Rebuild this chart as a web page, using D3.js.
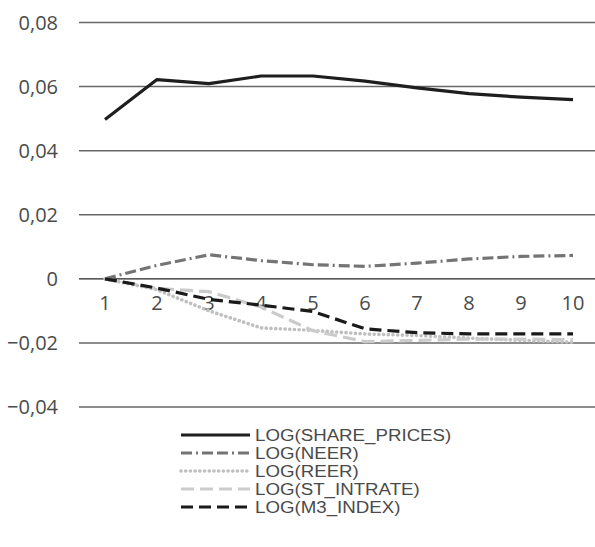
<!DOCTYPE html>
<html lang="en">
<head>
    <meta charset="UTF-8">
    <title>Impulse responses</title>
    <script src="https://d3js.org/d3.v7.min.js"></script>
    <style>
        body, html {
            margin: 0;
            padding: 0;
            background: #fff;
            overflow: hidden;
        }
        svg {
            display: block;
            font-family: "Open Sans", "Noto Sans", sans-serif;
        }
        .tick-label {
            fill: #4a4a4a;
            font-size: 20px;
        }
        .legend text {
            fill: #4a4a4a;
            font-family: "Liberation Sans", Arial, sans-serif;
            font-size: 17px;
        }
    </style>
</head>
<body>
    <svg width="595" height="547"></svg>
    <script>
        const width = 595, height = 547;

        // periods and y ticks
        const periods = [1, 2, 3, 4, 5, 6, 7, 8, 9, 10];
        const yTicks = [-0.04, -0.02, 0, 0.02, 0.04, 0.06, 0.08];

        // responses
        const sharePrices = [0.0497, 0.0622, 0.0609, 0.0633, 0.0633, 0.0617, 0.0596, 0.0578, 0.0567, 0.0559];
        const neer = [0, 0.0042, 0.0075, 0.0057, 0.0044, 0.0039, 0.0049, 0.0062, 0.0070, 0.0073];
        const reer = [0, -0.0034, -0.0100, -0.0153, -0.0161, -0.0172, -0.0177, -0.0185, -0.0192, -0.0198];
        const stIntrate = [0, -0.0030, -0.0040, -0.0088, -0.0162, -0.0196, -0.0192, -0.0188, -0.0188, -0.0190];
        const m3Index = [0, -0.0029, -0.0064, -0.0082, -0.0102, -0.0156, -0.0168, -0.0172, -0.0172, -0.0172];

        const seriesNames = ["LOG(SHARE_PRICES)", "LOG(NEER)", "LOG(REER)", "LOG(ST_INTRATE)", "LOG(M3_INDEX)"];

        const series = [
            { name: seriesNames[0], values: sharePrices, color: "#1e1e1e", dash: null, cap: "butt" },
            { name: seriesNames[1], values: neer, color: "#747474", dash: "11,4,2,4,11,4", cap: "butt" },
            { name: seriesNames[2], values: reer, color: "#bfbfbf", dash: "0.1,4.6", cap: "round" },
            { name: seriesNames[3], values: stIntrate, color: "#cbcbcb", dash: "13,6", cap: "butt" },
            { name: seriesNames[4], values: m3Index, color: "#1a1a1a", dash: "12,6", cap: "butt" }
        ];

        const svg = d3.select("svg");

        const x = d3.scalePoint().domain(periods).range([79, 599]).padding(0.5);
        const y = d3.scaleLinear().domain([-0.04, 0.08]).range([407, 22.5]);

        const fmt = d => d === 0 ? "0" : d3.format(".2f")(d).replace(".", ",").replace("-", "\u2013");

        // gridlines
        svg.append("g")
            .selectAll("line")
            .data(yTicks)
            .enter().append("line")
            .attr("x1", 79)
            .attr("x2", width)
            .attr("y1", d => y(d))
            .attr("y2", d => y(d))
            .attr("stroke", d => d === 0 ? "#262626" : "#676767")
            .attr("stroke-width", d => d === 0 ? 1.2 : 1.5);

        // y labels
        svg.append("g")
            .selectAll("text")
            .data(yTicks)
            .enter().append("text")
            .attr("class", "tick-label")
            .attr("x", 58)
            .attr("y", d => y(d))
            .attr("dy", "0.35em")
            .attr("text-anchor", "end")
            .text(fmt);

        // x labels sit just under the zero line
        svg.append("g")
            .selectAll("text")
            .data(periods)
            .enter().append("text")
            .attr("class", "tick-label")
            .attr("x", d => x(d))
            .attr("y", y(0) + 24)
            .attr("dy", "0.35em")
            .attr("text-anchor", "middle")
            .text(d => d);

        const line = d3.line()
            .x((d, i) => x(periods[i]))
            .y(d => y(d));

        // draw back to front so the black lines sit on top
        const drawOrder = [1, 2, 3, 4, 0];
        svg.append("g")
            .selectAll("path")
            .data(drawOrder.map(i => series[i]))
            .enter().append("path")
            .attr("d", d => line(d.values))
            .attr("fill", "none")
            .attr("stroke", d => d.color)
            .attr("stroke-width", d => d.cap === "round" ? 3.6 : 3.2)
            .attr("stroke-dasharray", d => d.dash)
            .attr("stroke-linecap", d => d.cap)
            .attr("stroke-linejoin", "round");

        // legend
        const legend = svg.append("g").attr("class", "legend");
        const rows = legend.selectAll("g")
            .data(series)
            .enter().append("g")
            .attr("transform", (d, i) => `translate(0,${435 + i * 18})`);

        rows.append("line")
            .attr("x1", 181)
            .attr("x2", 250)
            .attr("stroke", d => d.color)
            .attr("stroke-width", d => d.cap === "round" ? 3.6 : 3.2)
            .attr("stroke-dasharray", d => d.dash)
            .attr("stroke-linecap", d => d.cap);

        rows.append("text")
            .attr("transform", "translate(255,0) scale(1.1,1)")
            .attr("dy", "0.36em")
            .text(d => d.name);
    </script>
</body>
</html>
